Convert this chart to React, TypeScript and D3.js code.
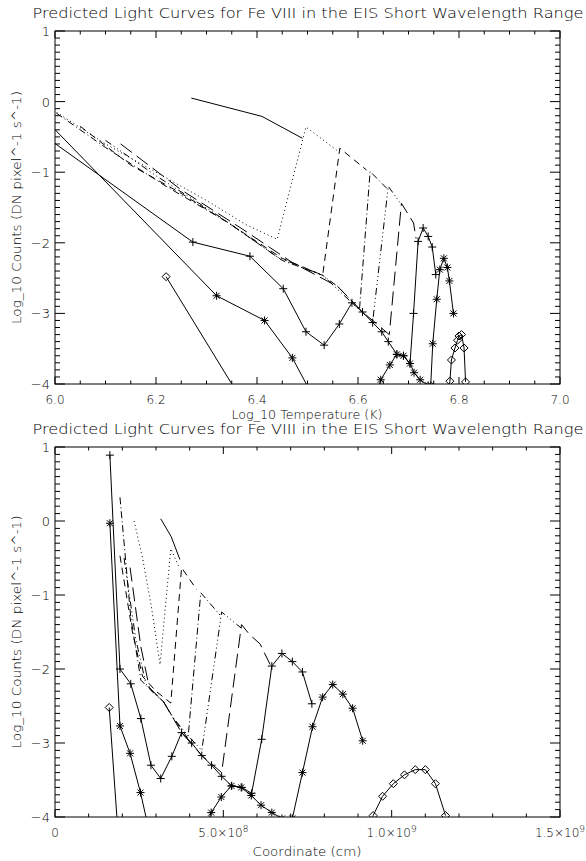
import React from "react";
import * as d3 from "d3";

const TITLE = "Predicted Light Curves for Fe VIII in the EIS Short Wavelength Range";
const Y_TITLE = "Log_10 Counts (DN pixel^-1 s^-1)";

const countTicks = [1, 0, -1, -2, -3, -4];
const tempTicks = [6.0, 6.2, 6.4, 6.6, 6.8, 7.0];
const coordTicks = [0, 5e8, 1e9, 1.5e9];
const coordTickText = [["0", ""], ["5.0×10", "8"], ["1.0×10", "9"], ["1.5×10", "9"]];

// top panel: [log T, log counts]
const solidTop = [[6.27, 0.05], [6.41, -0.21], [6.49, -0.52]];
const dottedTop = [[5.97, 0.0], [6.1, -0.6], [6.2, -1.0], [6.3, -1.4], [6.38, -1.75], [6.44, -1.95], [6.497, -0.36], [6.558, -0.69]];
const dashedTop = [[6.05, -0.35], [6.15, -0.9], [6.25, -1.3], [6.35, -1.75], [6.45, -2.22], [6.53, -2.46], [6.564, -0.66], [6.617, -0.97]];
const dashDotTop = [[5.98, -0.05], [6.1, -0.65], [6.22, -1.2], [6.34, -1.7], [6.45, -2.25], [6.53, -2.46], [6.56, -2.62], [6.603, -2.94], [6.624, -0.99], [6.66, -1.25]];
const dashDot3Top = [[6.1, -0.55], [6.2, -1.05], [6.32, -1.6], [6.44, -2.2], [6.53, -2.46], [6.588, -2.85], [6.629, -3.12], [6.66, -1.2], [6.686, -1.46]];
const longDashTop = [[6.13, -0.6], [6.25, -1.25], [6.37, -1.8], [6.47, -2.28], [6.56, -2.62], [6.609, -2.98], [6.662, -3.3], [6.686, -1.44], [6.71, -1.72], [6.715, -1.94]];
const plusTop = [[5.71, 0.89], [6.273, -1.99], [6.386, -2.19], [6.452, -2.65], [6.497, -3.26], [6.533, -3.45], [6.563, -3.15], [6.588, -2.85], [6.609, -2.98], [6.629, -3.13], [6.647, -3.26], [6.66, -3.4], [6.677, -3.58], [6.69, -3.6], [6.703, -3.71], [6.71, -3.0], [6.719, -1.98], [6.729, -1.79], [6.739, -1.91], [6.747, -2.06], [6.754, -2.45]];
const starTop = [[5.95, -0.03], [6.32, -2.75], [6.415, -3.1], [6.47, -3.63], [6.52, -4.3], [6.63, -4.3], [6.645, -3.94], [6.663, -3.73], [6.677, -3.58], [6.69, -3.6], [6.703, -3.71], [6.711, -3.84], [6.723, -3.94], [6.739, -4.02], [6.744, -4.02], [6.748, -3.43], [6.756, -2.8], [6.762, -2.38], [6.77, -2.22], [6.777, -2.35], [6.781, -2.54], [6.789, -3.0]];
const diamondTop = [[6.22, -2.48], [6.41, -4.7], [6.77, -4.6], [6.782, -3.96], [6.785, -3.66], [6.792, -3.49], [6.797, -3.38], [6.8, -3.32], [6.805, -3.3], [6.81, -3.49], [6.813, -3.97]];

// bottom panel: [coordinate / 1e8 cm, log counts]
const solidBot = [[3.14, 0.03], [3.45, -0.21], [3.71, -0.52]];
const dottedBot = [[2.35, 0.0], [2.6, -0.5], [2.85, -1.12], [3.12, -1.94], [3.44, -0.375], [3.68, -0.62]];
const dashedBot = [[1.93, -0.47], [2.3, -1.5], [2.6, -2.1], [3.0, -2.3], [3.44, -2.46], [3.76, -0.63], [4.21, -0.93]];
const dashDotBot = [[1.93, 0.32], [2.25, -1.3], [2.55, -2.15], [2.92, -2.32], [3.22, -2.44], [3.51, -2.66], [3.95, -2.94], [4.33, -0.97], [4.9, -1.27]];
const dashDot3Bot = [[2.05, -0.5], [2.4, -1.6], [2.7, -2.2], [2.92, -2.32], [3.22, -2.44], [3.51, -2.66], [3.95, -2.9], [4.36, -3.1], [4.95, -1.23], [5.54, -1.45]];
const longDashBot = [[2.23, -0.63], [2.55, -1.7], [2.8, -2.25], [3.22, -2.44], [3.76, -2.86], [4.36, -3.17], [4.95, -3.4], [5.54, -1.4], [5.79, -1.54], [6.09, -1.66], [6.39, -1.94]];
const plusBot = [[1.63, 0.89], [1.93, -2.0], [2.25, -2.2], [2.55, -2.67], [2.85, -3.3], [3.14, -3.48], [3.47, -3.18], [3.76, -2.86], [4.06, -3.0], [4.36, -3.17], [4.65, -3.3], [4.95, -3.45], [5.25, -3.58], [5.55, -3.6], [5.84, -3.68], [6.14, -2.95], [6.44, -1.96], [6.74, -1.79], [7.05, -1.9], [7.35, -2.04], [7.63, -2.47]];
const starBot = [[1.63, -0.03], [1.93, -2.77], [2.23, -3.14], [2.54, -3.67], [2.85, -4.3], [4.34, -4.3], [4.64, -3.94], [4.94, -3.73], [5.24, -3.58], [5.53, -3.6], [5.83, -3.71], [6.12, -3.84], [6.44, -3.94], [6.74, -4.02], [7.05, -4.02], [7.35, -3.4], [7.65, -2.78], [7.95, -2.38], [8.25, -2.21], [8.55, -2.34], [8.84, -2.53], [9.14, -2.97]];
const diamondBot = [[1.61, -2.52], [1.9, -4.4], [9.15, -4.6], [9.45, -3.98], [9.73, -3.72], [10.05, -3.55], [10.38, -3.43], [10.7, -3.36], [11.0, -3.36], [11.3, -3.55], [11.6, -3.98]];

const styles = [
  { top: solidTop, bot: solidBot, dash: null, sym: null },
  { top: dottedTop, bot: dottedBot, dash: "1 3", sym: null },
  { top: dashedTop, bot: dashedBot, dash: "7 5", sym: null },
  { top: dashDotTop, bot: dashDotBot, dash: "7 3 1 3", sym: null },
  { top: dashDot3Top, bot: dashDot3Bot, dash: "7 3 1 3 1 3 1 3", sym: null },
  { top: longDashTop, bot: longDashBot, dash: "14 6", sym: null },
  { top: plusTop, bot: plusBot, dash: null, sym: "plus" },
  { top: starTop, bot: starBot, dash: null, sym: "star" },
  { top: diamondTop, bot: diamondBot, dash: null, sym: "diamond" },
];

const FONT = "'DejaVu Sans', sans-serif";

function Marker({ kind, x, y }) {
  const s = 4;
  if (kind === "plus") return <path d={`M${x - s},${y}H${x + s}M${x},${y - s}V${y + s}`} />;
  if (kind === "star")
    return <path d={`M${x - s},${y}H${x + s}M${x},${y - s}V${y + s}M${x - 3},${y - 3}L${x + 3},${y + 3}M${x - 3},${y + 3}L${x + 3},${y - 3}`} />;
  return <path d={`M${x},${y - s}L${x + s},${y}L${x},${y + s}L${x - s},${y}Z`} />;
}

function Panel({ id, top, which, xDomain, xTicks, xMinor, xLabel, xLabelW, tickText }) {
  const L = 55, R = 560, T = top, B = top + (which === "top" ? 353 : 370);
  const x = d3.scaleLinear().domain(xDomain).range([L, R]);
  const y = d3.scaleLinear().domain([-4, 1]).range([B, T]);
  const px = d => x(which === "top" ? d[0] : d[0] * 1e8);
  const line = d3.line().x(px).y(d => y(d[1]));
  const minorX = d3.range(xDomain[0], xDomain[1] + xMinor / 2, xMinor);
  const minorY = d3.range(-4, 1.001, 0.1);
  const xl = 7, yl = 10;
  return (
    <g>
      <defs>
        <clipPath id={id}>
          <rect x={L} y={T} width={R - L} height={B - T} />
        </clipPath>
      </defs>
      <text x={308} y={T - 13} textAnchor="middle" fontSize={14} textLength={551} lengthAdjust="spacingAndGlyphs">{TITLE}</text>
      <rect x={L} y={T} width={R - L} height={B - T} fill="none" stroke="#000" strokeWidth={1} />
      <g stroke="#000" strokeWidth={1}>
        {minorX.map((v, i) => {
          const isMajor = xTicks.some(t => Math.abs(t - v) < xMinor / 10);
          const len = isMajor ? xl : xl / 2;
          return (
            <g key={"x" + i}>
              <line x1={x(v)} x2={x(v)} y1={B} y2={B - len} />
              <line x1={x(v)} x2={x(v)} y1={T} y2={T + len} />
            </g>
          );
        })}
        {minorY.map((v, i) => {
          const isMajor = Math.abs(v - Math.round(v)) < 0.01;
          const len = isMajor ? yl : yl / 2;
          return (
            <g key={"y" + i}>
              <line x1={L} x2={L + len} y1={y(v)} y2={y(v)} />
              <line x1={R} x2={R - len} y1={y(v)} y2={y(v)} />
            </g>
          );
        })}
      </g>
      {countTicks.map(v => (
        <text key={v} x={L - 5} y={y(v) + 5} textAnchor="end" fontSize={13}>{v < 0 ? "−" + Math.abs(v) : String(v)}</text>
      ))}
      {xTicks.map((v, i) => (
        <text key={v} x={x(v)} y={B + 20} textAnchor="middle" fontSize={12}>
          {tickText[i][0]}
          {tickText[i][1] ? <tspan dy={-5} fontSize={9}>{tickText[i][1]}</tspan> : null}
        </text>
      ))}
      <text x={307} y={B + (which === "top" ? 35 : 39)} textAnchor="middle" fontSize={13} textLength={xLabelW} lengthAdjust="spacingAndGlyphs">{xLabel}</text>
      <text transform={`translate(21,${(T + B) / 2}) rotate(-90)`} textAnchor="middle" fontSize={13} textLength={233} lengthAdjust="spacingAndGlyphs">{Y_TITLE}</text>
      <g clipPath={`url(#${id})`} fill="none" stroke="#000" strokeWidth={1}>
        {styles.map((s, i) => {
          const pts = which === "top" ? s.top : s.bot;
          return (
            <g key={i}>
              <path d={line(pts)} strokeDasharray={s.dash || undefined} />
              {s.sym && pts.map((p, j) => <Marker key={j} kind={s.sym} x={px(p)} y={y(p[1])} />)}
            </g>
          );
        })}
      </g>
    </g>
  );
}

export default function App() {
  const tempText = tempTicks.map(t => [t.toFixed(1), ""]);
  return (
    <div style={{ position: "absolute", left: 0, top: 0 }}>
      <svg width={586} height={861} style={{ background: "#fff", display: "block" }} fontFamily={FONT} fontWeight={200}
        stroke="none">
        <g>
          <Panel id="clipTop" top={31} which="top" xDomain={[6.0, 7.0]} xTicks={tempTicks} xMinor={0.05}
            xLabel="Log_10 Temperature (K)" xLabelW={151} tickText={tempText} />
          <Panel id="clipBot" top={447} which="bot" xDomain={[0, 1.5e9]} xTicks={coordTicks} xMinor={1e8}
            xLabel="Coordinate (cm)" xLabelW={109} tickText={coordTickText} />
        </g>
      </svg>
    </div>
  );
}
